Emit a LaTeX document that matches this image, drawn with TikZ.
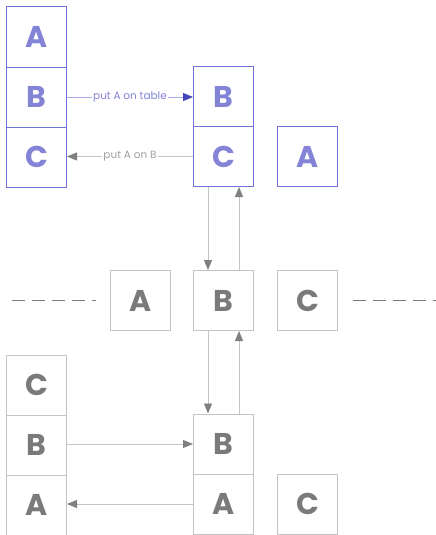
\documentclass[tikz,border=0pt]{standalone}
\usepackage{fontspec}
\setmainfont{Poppins}
\usetikzlibrary{arrows.meta}
\definecolor{bbord}{HTML}{7272D8}
\definecolor{btext}{HTML}{8484D6}
\definecolor{bline}{HTML}{A8A8E8}
\definecolor{btip}{HTML}{4545BB}
\definecolor{gbord}{HTML}{C4C4C4}
\definecolor{gtext}{HTML}{7A7A7A}
\definecolor{gline}{HTML}{C4C4C4}
\definecolor{gtip}{HTML}{7F7F7F}
\definecolor{glabel}{HTML}{A0A0A0}
\tikzset{
  block/.style={draw, line width=1pt, minimum width=60pt, minimum height=60pt, inner sep=0pt,
    font=\fontsize{30}{30}\selectfont\bfseries},
  bblock/.style={block, draw=bbord, text=btext},
  gblock/.style={block, draw=gbord, text=gtext},
  barrow/.style={draw=bline, line width=0.8pt, -{Triangle[length=10pt,width=8pt,color=btip]}},
  garrow/.style={draw=gline, line width=0.8pt, -{Triangle[length=10pt,width=8pt,color=gtip]}},
  lbl/.style={fill=white, inner sep=1.5pt, font=\fontsize{10.5}{12}\selectfont},
  sep/.style={draw=gtext, line width=0.9pt, dash pattern=on 13pt off 7pt}
}
\begin{document}
\begin{tikzpicture}[x=1pt,y=-1pt]
\useasboundingbox (0,0) rectangle (436,535);
% top-left stack
\node[bblock] (tlA) at (36.5,37) {A};
\node[bblock] (tlB) at (36.5,97) {B};
\node[bblock] (tlC) at (36.5,157) {C};
% top-middle stack
\node[bblock] (tmB) at (223.5,96.5) {B};
\node[bblock] (tmC) at (223.5,156.5) {C};
\node[bblock] (trA) at (307.5,156.5) {A};
% middle row
\node[gblock] (mA) at (140.5,300.5) {A};
\node[gblock] (mB) at (223.5,300.5) {B};
\node[gblock] (mC) at (307.5,300.5) {C};
% bottom-left stack
\node[gblock] (blC) at (36.5,385) {C};
\node[gblock] (blB) at (36.5,445) {B};
\node[gblock] (blA) at (36.5,505) {A};
% bottom-middle stack
\node[gblock] (bmB) at (223.5,444) {B};
\node[gblock] (bmA) at (223.5,504) {A};
\node[gblock] (brC) at (307.5,504) {C};
% top horizontal arrows
\draw[barrow] (tlB.east) -- (tlB.east -| tmB.west) node[lbl, midway, text=btext] {put A on table};
\draw[garrow] (tmC.west) -- (tmC.west -| tlC.east) node[lbl, midway, text=glabel] {put A on B};
% vertical arrows
\draw[garrow] ([xshift=-15.5pt]tmC.south) -- ([xshift=-15.5pt]mB.north);
\draw[garrow] ([xshift=15.5pt]mB.north) -- ([xshift=15.5pt]tmC.south);
\draw[garrow] ([xshift=-15.5pt]mB.south) -- ([xshift=-15.5pt]bmB.north);
\draw[garrow] ([xshift=15.5pt]bmB.north) -- ([xshift=15.5pt]mB.south);
% bottom horizontal arrows
\draw[garrow] (blB.east |- bmB.west) -- (bmB.west);
\draw[garrow] (bmA.west) -- (bmA.west -| blA.east);
% dashed separators
\coordinate (dl1) at (12,300.5);
\coordinate (dl2) at (96,300.5);
\coordinate (dr1) at (353,300.5);
\coordinate (dr2) at (436,300.5);
\draw[sep] (dl1) -- (dl2);
\draw[sep] (dr1) -- (dr2);
\end{tikzpicture}
\end{document}
